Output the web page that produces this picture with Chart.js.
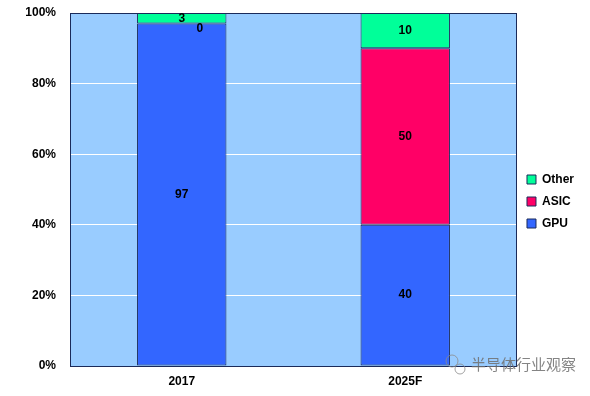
<!doctype html>
<html>
<head>
<meta charset="utf-8">
<title>GPU / ASIC / Other</title>
<script src="https://cdn.jsdelivr.net/npm/chart.js"></script>
<style>
  html, body { margin: 0; padding: 0; background: #fff; }
  #wrap { width: 590px; height: 396px; position: relative; }
</style>
</head>
<body>
<div id="wrap"><canvas id="chart"></canvas></div>
<script>
const categories = ['2017', '2025F']
const gpu = [97, 40]
const asic = [0, 50]
const other = [3, 10]
const yTicks = [0, 20, 40, 60, 80, 100]
const watermark = '半导体行业观察'

const FONT = '"Liberation Sans", Arial, sans-serif'

// light blue plot background + dark frame
const plotBg = {
  id: 'plotBg',
  beforeDraw(chart) {
    const { ctx, chartArea: a } = chart
    ctx.save()
    ctx.fillStyle = '#99CCFF'
    ctx.fillRect(a.left, a.top, a.right - a.left, a.bottom - a.top)
    ctx.restore()
  },
  afterDatasetsDraw(chart) {
    const { ctx, chartArea: a } = chart
    ctx.save()
    ctx.strokeStyle = '#1a2a5a'
    ctx.lineWidth = 1
    ctx.strokeRect(a.left + 0.5, a.top + 0.5, a.right - a.left - 1, a.bottom - a.top)
    ctx.restore()
  }
}

// value labels in the middle of each segment
const valueLabels = {
  id: 'valueLabels',
  afterDatasetsDraw(chart) {
    const { ctx } = chart
    ctx.save()
    ctx.font = 'bold 12px ' + FONT
    ctx.fillStyle = '#000'
    ctx.textAlign = 'center'
    ctx.textBaseline = 'middle'
    chart.data.datasets.forEach((ds, di) => {
      chart.getDatasetMeta(di).data.forEach((bar, i) => {
        const v = ds.data[i]
        let x = bar.x
        let y = (bar.y + bar.base) / 2
        if (v === 0) { x += 18; y += 5 }
        ctx.fillText(String(v), x, y)
      })
    })
    ctx.restore()
  }
}

const wm = {
  id: 'wm',
  afterDraw(chart) {
    const { ctx } = chart
    ctx.save()
    ctx.font = '15px "Noto Sans CJK SC", sans-serif'
    ctx.fillStyle = 'rgba(110,110,110,0.85)'
    ctx.textBaseline = 'middle'
    ctx.fillText(watermark, 471, 364)
    ctx.strokeStyle = 'rgba(140,140,140,0.8)'
    ctx.lineWidth = 1
    ctx.beginPath(); ctx.arc(452, 361, 6, 0, Math.PI * 2); ctx.stroke()
    ctx.beginPath(); ctx.arc(460, 369, 5, 0, Math.PI * 2); ctx.stroke()
    ctx.restore()
  }
}

new Chart(document.getElementById('chart'), {
  type: 'bar',
  data: {
    labels: categories,
    datasets: [
      { label: 'GPU', data: gpu, backgroundColor: '#3366FF' },
      { label: 'ASIC', data: asic, backgroundColor: '#FF0066' },
      { label: 'Other', data: other, backgroundColor: '#00FF99' }
    ].map(d => Object.assign(d, {
      borderColor: '#1a2a5a',
      borderWidth: 1,
      borderSkipped: false,
      barPercentage: 0.4,
      categoryPercentage: 1
    }))
  },
  options: {
    responsive: true,
    maintainAspectRatio: false,
    animation: false,
    layout: { autoPadding: false, padding: { top: 13, right: 6, left: 26, bottom: 6 } },
    scales: {
      x: {
        stacked: true,
        grid: { display: false },
        border: { display: false },
        ticks: { color: '#000', font: { family: FONT, size: 12, weight: 'bold' }, padding: 0 },
        afterFit(s) { s.height = 24; s.paddingLeft = 0; s.paddingRight = 0 }
      },
      y: {
        stacked: true,
        min: 0,
        max: 100,
        afterBuildTicks(axis) { axis.ticks = yTicks.map(v => ({ value: v })) },
        grid: { color: '#ffffff', drawTicks: false, lineWidth: 1 },
        border: { display: false },
        ticks: {
          color: '#000',
          padding: 14,
          font: { family: FONT, size: 12, weight: 'bold' },
          callback: v => v + '%'
        },
        afterFit(s) { s.width = 44; s.paddingTop = 0; s.paddingBottom = 0 }
      }
    },
    plugins: {
      legend: {
        position: 'right',
        reverse: true,
        labels: {
          color: '#000',
          boxWidth: 9,
          boxHeight: 9,
          padding: 10,
          font: { family: FONT, size: 12, weight: 'bold' }
        }
      },
      tooltip: { enabled: false }
    }
  },
  plugins: [plotBg, valueLabels, wm]
})
</script>
</body>
</html>
